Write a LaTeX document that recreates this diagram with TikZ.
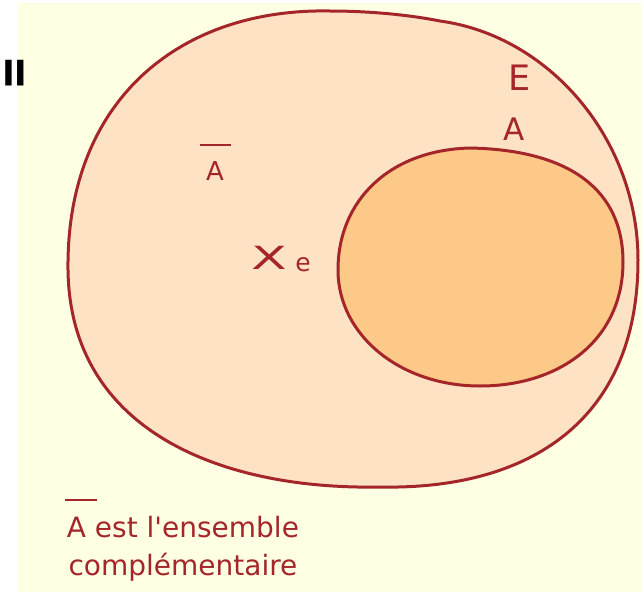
\documentclass[tikz,border=0pt]{standalone}
\usepackage{graphicx}
\usepackage{fontspec}
\newfontfamily\df{DejaVu Sans}
\definecolor{bgy}{HTML}{FFFFE4}
\definecolor{outerf}{HTML}{FDE2C4}
\definecolor{innerf}{HTML}{FCC988}
\definecolor{edge}{HTML}{A5262A}
\definecolor{txt}{HTML}{A5262A}
% overlined A: #1 raise of bar, #2 bar width, #3 bar shift
\newcommand{\barA}[3]{\makebox[0pt][l]{\hspace{#3}\raisebox{#1}{\rule{#2}{0.1em}}}A}
\begin{document}
\begin{tikzpicture}[x=1pt,y=-1pt,
  lbl/.style={text=txt,inner sep=0pt},
  setline/.style={draw=edge,line width=3pt}]
\useasboundingbox (0,0) rectangle (641,592);
\fill[white] (0,0) rectangle (641,592);
\fill[bgy] (18,3) rectangle (641,592);
\node[inner sep=0pt,anchor=base west,font=\df\fontsize{50}{50}\selectfont\bfseries] (q) at (0,129) {\scalebox{1.1}[1.9]{\symbol{34}}};
% outer set E
\path[setline,fill=outerf] (330,11)
  .. controls (370,11) and (410,15) .. (440,21)
  .. controls (550,36) and (638,140) .. (638,260)
  .. controls (638,420) and (530,490) .. (380,487)
  .. controls (220,490) and (70,430) .. (68,270)
  .. controls (66,100) and (180,8) .. (330,11) -- cycle;
% inner set A
\path[setline,fill=innerf] (470,148)
  .. controls (570,150) and (623,190) .. (623,262)
  .. controls (623,340) and (560,386) .. (480,386)
  .. controls (400,386) and (338,335) .. (338,270)
  .. controls (338,200) and (390,150) .. (470,148) -- cycle;
\node[lbl,font=\df\fontsize{35}{35}\selectfont] (E) at (520,78) {E};
\node[lbl,font=\df\fontsize{31}{31}\selectfont] (A) at (514,129) {A};
\node[lbl,font=\df\fontsize{26}{26}\selectfont,anchor=base] (Ab) at (215,180) {\barA{1.3em}{1.2em}{-0.25em}};
\node[lbl,font=\df\fontsize{29}{29}\selectfont] (x) at (269,258) {\scalebox{1.8}[1.1]{X}};
\node[lbl,font=\df\fontsize{25}{25}\selectfont,anchor=base] (e) at (303,271) {e};
\node[lbl,font=\df\fontsize{28}{38}\selectfont,align=center,anchor=base] (t) at (183,575)
  {\barA{1.27em}{1.15em}{-0.08em} est l'ensemble\\complémentaire};
\end{tikzpicture}
\end{document}
